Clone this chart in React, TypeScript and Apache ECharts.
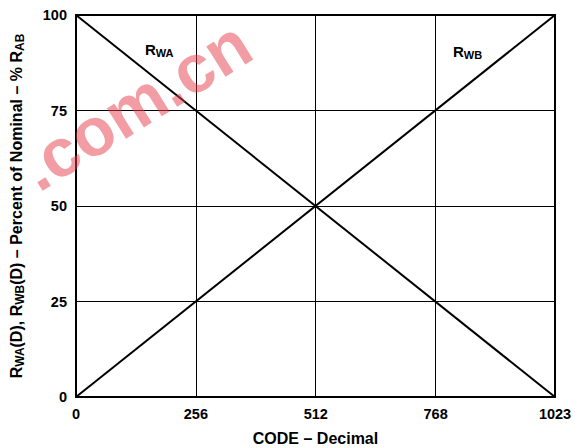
import React, { useEffect, useRef } from "react";
import * as echarts from "echarts";

const codes = [0, 1023];
const rwa = [100, 0];
const rwb = [0, 100];
const xTickLabels = [0, 256, 512, 768, 1023];
const yMin = 0;
const yMax = 100;
const yStep = 25;

const FONT = "'Liberation Sans', Arial, sans-serif";

export default function App() {
  const ref = useRef<HTMLDivElement>(null);
  useEffect(() => {
    const chart = echarts.init(ref.current!, null, { renderer: "svg" });
    const sub = { fontFamily: FONT, fontWeight: "bold", fontSize: 12, color: "#000", padding: [7, 0, 0, 0] };
    const norm = { fontFamily: FONT, fontWeight: "bold", fontSize: 16, color: "#000" };
    chart.setOption({
      animation: false,
      backgroundColor: "#fff",
      grid: {
        left: 76,
        top: 15,
        right: 20,
        bottom: 51,
        containLabel: false,
        outerBoundsMode: "none",
        show: true,
        borderColor: "#000",
        borderWidth: 2,
        backgroundColor: "transparent",
      },
      xAxis: {
        type: "value",
        min: 0,
        max: 1023,
        interval: 256,
        name: "CODE – Decimal",
        nameLocation: "middle",
        nameGap: 33,
        nameTextStyle: { fontFamily: FONT, fontWeight: "bold", fontSize: 16, color: "#000" },
        axisLine: { show: false },
        axisTick: { show: false },
        axisLabel: {
          customValues: xTickLabels,
          formatter: (v: number) => String(v),
          fontFamily: FONT,
          fontWeight: "bold",
          fontSize: 14.5,
          color: "#000",
          margin: 9,
          showMaxLabel: true,
          showMinLabel: true,
        },
        splitLine: { show: true, lineStyle: { color: "#000", width: 1 } },
      },
      yAxis: {
        type: "value",
        min: yMin,
        max: yMax,
        interval: yStep,
        name: "{n|R}{s|WA}{n|(D), R}{s|WB}{n|(D) – Percent of Nominal – % R}{s|AB}",
        nameLocation: "middle",
        nameGap: 50,
        nameTextStyle: { rich: { n: norm, s: sub } },
        axisLine: { show: false },
        axisTick: { show: false },
        axisLabel: {
          formatter: (v: number) => String(v),
          fontFamily: FONT,
          fontWeight: "bold",
          fontSize: 14.5,
          color: "#000",
          margin: 9,
        },
        splitLine: { show: true, lineStyle: { color: "#000", width: 1 } },
      },
      graphic: [
        {
          type: "text",
          left: 8,
          top: 8,
          rotation: (32 * Math.PI) / 180,
          z: 100,
          silent: true,
          style: {
            text: ".com.cn",
            fontFamily: FONT,
            fontWeight: "bold",
            fontSize: 68,
            fill: "rgba(228,60,72,0.5)",
          },
        },
        {
          type: "text",
          left: 145,
          top: 42,
          z: 50,
          style: {
            rich: {
              n: { fontFamily: FONT, fontSize: 15, fontWeight: "bold", color: "#555" },
              s: { fontFamily: FONT, fontSize: 11, fontWeight: "bold", color: "#555", padding: [6, 0, 0, 0] },
            },
            text: "{n|R}{s|WA}",
          },
        },
        {
          type: "text",
          left: 453,
          top: 44,
          z: 50,
          style: {
            rich: {
              n: { fontFamily: FONT, fontSize: 15, fontWeight: "bold", color: "#000" },
              s: { fontFamily: FONT, fontSize: 11, fontWeight: "bold", color: "#000", padding: [6, 0, 0, 0] },
            },
            text: "{n|R}{s|WB}",
          },
        },
      ],
      series: [
        {
          name: "RWA",
          type: "line",
          data: codes.map((c, i) => [c, rwa[i]]),
          symbol: "none",
          lineStyle: { color: "#000", width: 2 },
          z: 10,
        },
        {
          name: "RWB",
          type: "line",
          data: codes.map((c, i) => [c, rwb[i]]),
          symbol: "none",
          lineStyle: { color: "#000", width: 2 },
          z: 10,
        },
      ],
    });
    return () => chart.dispose();
  }, []);
  return <div ref={ref} style={{ width: 575, height: 448, position: "absolute", left: 0, top: 0 }} />;
}
